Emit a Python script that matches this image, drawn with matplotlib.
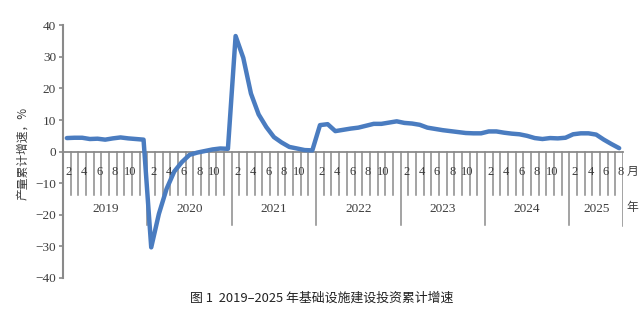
import matplotlib
matplotlib.use("Agg")
import matplotlib.pyplot as plt

# cumulative growth, %, Feb..Dec for each year (Jan merged into Feb)
years = [2019, 2020, 2021, 2022, 2023, 2024, 2025]
growth_2019 = [4.3, 4.4, 4.4, 4.0, 4.1, 3.8, 4.2, 4.5, 4.2, 4.0, 3.8]
growth_2020 = [-30.3, -19.7, -11.8, -6.3, -3.3, -1.0, -0.3, 0.2, 0.7, 1.0, 0.9]
growth_2021 = [36.6, 29.7, 18.4, 11.8, 7.8, 4.6, 2.9, 1.5, 1.0, 0.5, 0.4]
growth_2022 = [8.4, 8.7, 6.5, 6.9, 7.3, 7.6, 8.2, 8.8, 8.8, 9.2, 9.6]
growth_2023 = [9.1, 8.9, 8.5, 7.6, 7.2, 6.8, 6.5, 6.2, 5.9, 5.8, 5.8]
growth_2024 = [6.4, 6.4, 6.0, 5.7, 5.5, 5.0, 4.3, 4.0, 4.3, 4.2, 4.4]
growth_2025 = [5.5, 5.8, 5.8, 5.4, 3.8, 2.4, 1.1]
series = [growth_2019, growth_2020, growth_2021, growth_2022,
          growth_2023, growth_2024, growth_2025]

month_labels = ["2", "4", "6", "8", "10"]
y_ticks = [40, 30, 20, 10, 0, -10, -20, -30, -40]

ylabel = "产量累计增速，%"
caption = "图 1  2019–2025 年基础设施建设投资累计增速"

CJK = ["Noto Sans CJK SC", "DejaVu Sans"]
SERIF = ["Liberation Serif", "DejaVu Serif"]
GRAY = "#8a8a8a"
TXT = "#3c3c3c"
BLUE = "#4a7cc0"

fig = plt.figure(figsize=(6.4, 3.15), dpi=100)
ax = fig.add_axes([63 / 640, 1 - 278 / 315, 560 / 640, (278 - 25.3) / 315])

# build x positions: 11 slots per year (Feb..Dec), points at slot centres
xs, ys = [], []
for i, vals in enumerate(series):
    for k, v in enumerate(vals):
        xs.append(i * 11 + k + 0.5)
        ys.append(v)
x_end = 11 * (len(years) - 1) + len(growth_2025)

ax.plot(xs, ys, color=BLUE, lw=3.2, solid_joinstyle="round",
        solid_capstyle="round", zorder=3)

# horizontal axis at 0
ax.plot([0, x_end], [0, 0], color=GRAY, lw=1.3, zorder=2, clip_on=False)

# month ticks and year separators
for i, vals in enumerate(series):
    start = i * 11
    n = len(vals)
    for k in range(1, n):
        ax.plot([start + k, start + k], [0, -13.7], color=GRAY, lw=1.1,
                zorder=1)
    if i > 0:
        ax.plot([start, start], [0, -23.2], color=GRAY, lw=1.1, zorder=1)
    for j, lab in enumerate(month_labels):
        k = 2 * j + 1
        if k > n:
            break
        ax.text(start + k - 0.25, -6.3, lab, ha="center", va="center",
                fontsize=9, color=TXT, family=SERIF, zorder=2)
    ax.text(start + n / 2, -18.2, str(years[i]), ha="center", va="center",
            fontsize=9.5, color=TXT, family=SERIF)
ax.plot([x_end, x_end], [0, -23.5], color=GRAY, lw=1.1, zorder=1)

ax.text(x_end + 0.5, -6.3, "月", ha="left", va="center", fontsize=8.5,
        color=TXT, family=CJK, clip_on=False)
ax.text(x_end + 0.5, -17.6, "年", ha="left", va="center", fontsize=8.5,
        color=TXT, family=CJK, clip_on=False)

ax.set_xlim(0, x_end)
ax.set_ylim(-40, 40)
ax.set_yticks(y_ticks)
ax.set_yticklabels([str(t).replace("-", "\u2212") for t in y_ticks],
                   family=SERIF, fontsize=9.5, color=TXT)
ax.set_xticks([])
for s in ["top", "right", "bottom"]:
    ax.spines[s].set_visible(False)
ax.spines["left"].set_color(GRAY)
ax.spines["left"].set_linewidth(1.5)
ax.tick_params(axis="y", direction="out", length=3, width=1.2, color=GRAY,
               pad=2)
ax.patch.set_visible(False)

fig.text(23 / 640, 1 - 153 / 315, ylabel, rotation=90, ha="center",
         va="center", fontsize=8.5, color=TXT, family=CJK)
fig.text(322 / 640, 1 - 298 / 315, caption, ha="center", va="center",
         fontsize=9.3, color="#222222", family=CJK)

fig.savefig("out.png", dpi=100, facecolor="white")
